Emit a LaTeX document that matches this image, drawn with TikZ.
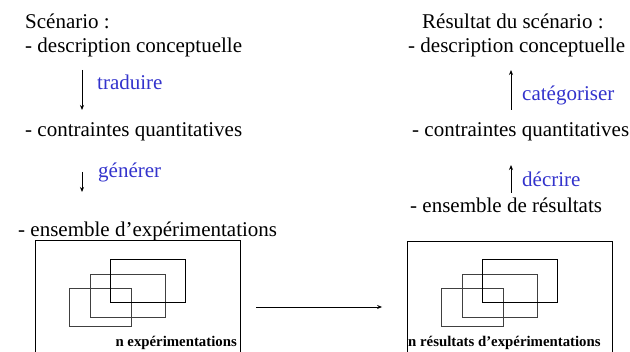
\documentclass[tikz,border=0pt]{standalone}
\usepackage{fontspec}
\setmainfont{Liberation Serif}
\usetikzlibrary{arrows.meta, positioning}
\definecolor{verbblue}{RGB}{51,51,204}
\def\shiftR{372}

\begin{document}
\begin{tikzpicture}[
  x=1pt, y=-1pt,
  >={Stealth[length=5pt, width=4pt]},
  txt/.style    = {anchor=base west, inner sep=0pt, font=\fontsize{21}{25}\selectfont},
  verb/.style   = {anchor=base west, inner sep=0pt, text=verbblue,
                   font=\fontsize{21}{25}\selectfont},
  frame/.style  = {draw, line width=0.8pt, minimum width=205pt, minimum height=120pt,
                   inner sep=0pt},
  boxlbl/.style = {inner sep=0pt, font=\fontsize{14.8}{17}\selectfont\bfseries},
  flow/.style   = {->, line width=0.8pt},
  expr/.style   = {line width=0.8pt},
]
\clip (0,0) rectangle (630,352);
\useasboundingbox (0,0) rectangle (630,352);

% ---------- scenario column ----------
\node[txt] (scen)  at (25,29)  {Scénario :};
\node[txt] (sdesc) at (25,53)  {- description conceptuelle};
\node[txt] (scont) at (25,137) {- contraintes quantitatives};
\node[txt] (sexp)  at (18,237) {- ensemble d’expérimentations};

\coordinate (trA) at (82,70);  \coordinate (trB) at (82,110);
\coordinate (geA) at (82,172); \coordinate (geB) at (82,192);
\draw[flow] (trA) -- (trB);
\draw[flow] (geA) -- (geB);
\node[verb] (trad) at (97,90)  {traduire};
\node[verb] (gen)  at (98,178) {générer};

% ---------- result column ----------
\node[txt] (res)   at (422,29)  {Résultat du scénario :};
\node[txt] (rdesc) at (408,53)  {- description conceptuelle};
\node[txt] (rcont) at (412,137) {- contraintes quantitatives};
\node[txt] (rens)  at (410,213) {- ensemble de résultats};

\coordinate (caA) at (511,110); \coordinate (caB) at (511,70);
\coordinate (deA) at (511,193); \coordinate (deB) at (511,165);
\draw[flow] (caA) -- (caB);
\draw[flow] (deA) -- (deB);
\node[verb] (cat) at (522,101) {catégoriser};
\node[verb] (dec) at (522,187) {décrire};

% ---------- experiment / result boxes ----------
\node[frame] (expbox) at (137.5,300) {};
\node[frame] (resbox) at (510,301)   {};
\node[boxlbl, anchor=base east] (nexp) at (237,347) {n expérimentations};
\node[boxlbl, anchor=base west] (nres) at (408,347) {n résultats d’expérimentations};

\foreach \dx in {0,\shiftR}{
  \begin{scope}[xshift=\dx]
    \draw[expr, black!75] (69,288) rectangle (131,326);
    \draw[expr, black!75] (90,274) rectangle (165,317);
    \draw[expr]           (110,259) rectangle (185,302);
  \end{scope}
}

\draw[flow] ([xshift=16pt, yshift=-7pt]expbox.east) -- ([xshift=-25pt, yshift=-6pt]resbox.west);

\end{tikzpicture}
\end{document}
